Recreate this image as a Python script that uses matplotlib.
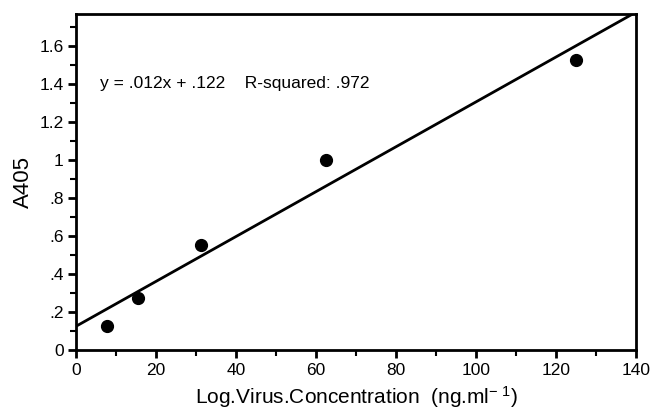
import matplotlib
matplotlib.use('Agg')
import matplotlib.pyplot as plt
import numpy as np
from matplotlib.ticker import MultipleLocator, FixedLocator, FixedFormatter

plt.rcParams['font.family'] = ['Liberation Sans', 'DejaVu Sans']
plt.rcParams['mathtext.fontset'] = 'custom'
plt.rcParams['mathtext.rm'] = 'Liberation Sans'
plt.rcParams['mathtext.it'] = 'Liberation Sans'

# virus concentration vs absorbance
conc = [7.8, 15.6, 31.25, 62.5, 125.0]
a405 = [0.128, 0.275, 0.553, 1.0, 1.526]

y_ticks = [0, 0.2, 0.4, 0.6, 0.8, 1.0, 1.2, 1.4, 1.6]
y_labels = ['0', '.2', '.4', '.6', '.8', '1', '1.2', '1.4', '1.6']
x_ticks = [0, 20, 40, 60, 80, 100, 120, 140]

fig = plt.figure(figsize=(6.5, 4.11), dpi=100)
ax = fig.add_axes([0.117, 0.1484, 0.861, 0.8176])

# regression line
slope, icpt = np.polyfit(conc, a405, 1)
xx = np.array([0, 140])
ax.plot(xx, slope * xx + icpt, color='black', lw=2.0)
ax.plot(conc, a405, 'o', color='black', ms=8.5)

ax.set_xlim(0, 140)
ax.set_ylim(0, 1.768)
ax.xaxis.set_major_locator(FixedLocator(x_ticks))
ax.xaxis.set_minor_locator(MultipleLocator(10))
ax.yaxis.set_major_locator(FixedLocator(y_ticks))
ax.yaxis.set_major_formatter(FixedFormatter(y_labels))
ax.yaxis.set_minor_locator(MultipleLocator(0.1))

for s in ax.spines.values():
    s.set_linewidth(2.0)
ax.tick_params(which='major', direction='out', length=6, width=2, labelsize=12.5, pad=3)
ax.tick_params(which='minor', direction='out', length=4, width=1.5)

ax.text(6, 1.4, 'y = .012x + .122    R-squared: .972', fontsize=12.5, va='center', ha='left')

ax.set_xlabel('Log.Virus.Concentration  (ng.ml$^{-\\ 1}$)', fontsize=15, labelpad=5)
ax.set_ylabel('A405', fontsize=16, labelpad=4)

fig.savefig('out.png', dpi=100)
